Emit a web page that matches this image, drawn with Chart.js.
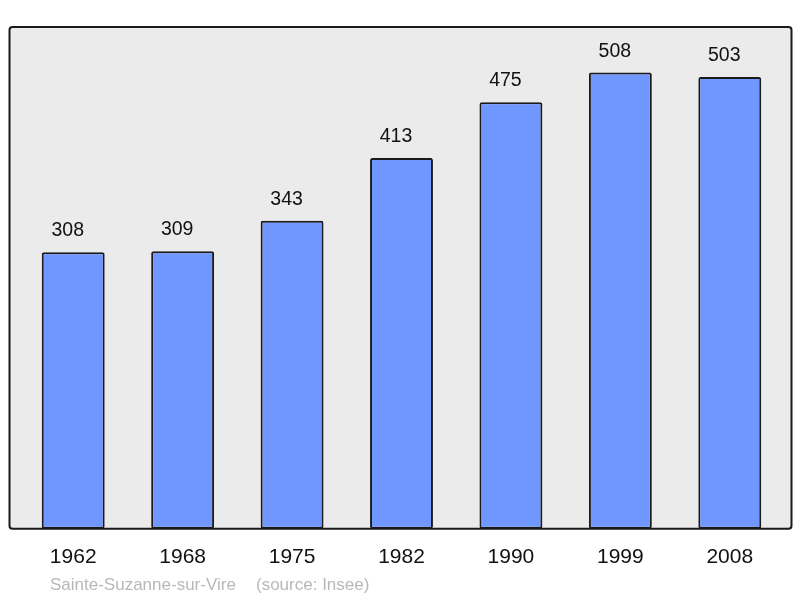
<!DOCTYPE html>
<html>
<head>
<meta charset="utf-8">
<script src="https://cdn.jsdelivr.net/npm/chart.js@4/dist/chart.umd.min.js"></script>
<style>
html,body{margin:0;padding:0;background:#fff;}
#wrap{width:800px;height:598px;}
</style>
</head>
<body>
<div id="wrap"><canvas id="c" width="800" height="598"></canvas></div>
<script>
const years = ['1962','1968','1975','1982','1990','1999','2008'];
const population = [308, 309, 343, 413, 475, 508, 503];
const footerName = 'Sainte-Suzanne-sur-Vire';
const footerSource = '(source: Insee)';

const FONT = '"Liberation Sans", Arial, sans-serif';

const framePlugin = {
  id: 'frame',
  beforeDatasetsDraw(chart) {
    const {ctx, chartArea} = chart;
    ctx.save();
    ctx.fillStyle = '#ebebeb';
    ctx.fillRect(chartArea.left - 9, chartArea.top, chartArea.right - chartArea.left + 16, chartArea.bottom - chartArea.top);
    ctx.restore();
  },
  afterDatasetsDraw(chart) {
    const {ctx, chartArea} = chart;
    ctx.save();
    const meta = chart.getDatasetMeta(0);
    ctx.fillStyle = '#111';
    ctx.font = '19.5px ' + FONT;
    ctx.textAlign = 'center';
    ctx.textBaseline = 'alphabetic';
    meta.data.forEach((bar, i) => {
      ctx.fillText(String(chart.data.datasets[0].data[i]), bar.x - 5.5, bar.y - 16);
    });
    const x0 = chartArea.left - 9, y0 = chartArea.top, x1 = chartArea.right + 7, y1 = chartArea.bottom;
    ctx.strokeStyle = '#1a1a1a';
    ctx.lineWidth = 2;
    ctx.beginPath();
    if (ctx.roundRect) ctx.roundRect(x0, y0, x1 - x0, y1 - y0, 3); else ctx.rect(x0, y0, x1 - x0, y1 - y0);
    ctx.stroke();
    ctx.fillStyle = '#b8b8b8';
    ctx.font = '17px ' + FONT;
    ctx.textAlign = 'left';
    ctx.fillText(footerName, 50, 590);
    ctx.fillText(footerSource, 256, 590);
    ctx.restore();
  }
};

new Chart(document.getElementById('c'), {
  type: 'bar',
  data: {
    labels: years,
    datasets: [{
      data: population,
      backgroundColor: '#7096ff',
      borderColor: '#1a1a1a',
      borderWidth: 2,
      borderRadius: 2,
      borderSkipped: false,
      barPercentage: 0.575,
      categoryPercentage: 1
    }]
  },
  options: {
    responsive: false,
    animation: false,
    devicePixelRatio: 1,
    layout: { padding: { left: 18.5, right: 15.5, top: 27, bottom: 20 } },
    plugins: { legend: { display: false }, tooltip: { enabled: false } },
    scales: {
      x: {
        grid: { display: false },
        border: { display: false },
        ticks: { color: '#111', font: { size: 21, family: FONT }, padding: 8, maxRotation: 0 }
      },
      y: { display: false, min: 0, max: 558.8 }
    }
  },
  plugins: [framePlugin]
});
</script>
</body>
</html>
